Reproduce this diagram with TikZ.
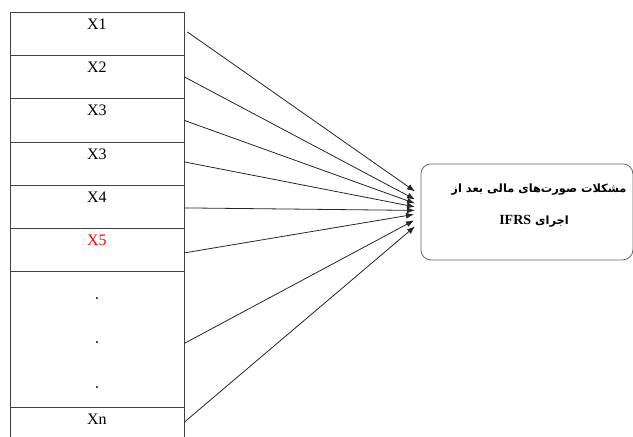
\documentclass[tikz,border=0pt]{standalone}
\usepackage{fontspec}
\setmainfont{Liberation Serif}
\newfontfamily\arabicfont[Script=Arabic]{DejaVu Sans}
\TeXXeTstate=1
\usetikzlibrary{arrows.meta,calc}
\begin{document}
\begin{tikzpicture}[x=1pt,y=-1pt,
  cell/.style={draw=black!75, line width=0.8pt, minimum width=174pt, minimum height=#1, inner sep=0pt, anchor=north west},
  lbl/.style={font=\fontsize{16}{16}\selectfont, anchor=base, inner sep=0pt},
  conn/.style={draw=black!85, line width=0.8pt, -{Latex[length=8pt,width=6pt]}},
  dotmark/.style={circle, fill=black, inner sep=0pt, minimum size=2.2pt},
  target/.style={draw=black!60, line width=0.8pt, rounded corners=10pt, minimum width=212pt, minimum height=96pt, inner sep=0pt, anchor=north west},
  ar/.style={font=\arabicfont\bfseries\fontsize{11.4}{11.4}\selectfont, inner sep=0pt}
]
\useasboundingbox (0,0) rectangle (633,437);
% left column of cells
\node[cell=43pt] (c1) at (9.5,12) {};
\node[cell=43pt] (c2) at (9.5,55) {};
\node[cell=44pt] (c3) at (9.5,98) {};
\node[cell=43pt] (c4) at (9.5,142) {};
\node[cell=43pt] (c5) at (9.5,185) {};
\node[cell=43pt] (c6) at (9.5,228) {};
\node[cell=136pt] (c7) at (9.5,271) {};
\node[cell=29.5pt] (c8) at (9.5,407) {};
% labels
\node[lbl] (l1) at ($(c1.north)+(0,17.5)$) {X1};
\node[lbl] (l2) at ($(c2.north)+(0,17.5)$) {X2};
\node[lbl] (l3) at ($(c3.north)+(0,17.5)$) {X3};
\node[lbl] (l4) at ($(c4.north)+(0,17.5)$) {X3};
\node[lbl] (l5) at ($(c5.north)+(0,17.5)$) {X4};
\node[lbl, text=red] (l6) at ($(c6.north)+(0,17.5)$) {X5};
\node[lbl] (l8) at ($(c8.north)+(0,17.5)$) {Xn};
\node[dotmark] (d1) at ($(c7.north)+(0,27)$) {};
\node[dotmark] (d2) at ($(c7.north)+(0,71)$) {};
\node[dotmark] (d3) at ($(c7.north)+(0,116)$) {};
% target box
\node[target] (t) at (420.5,163.5) {};
\node[ar] (t1) at (539,190) {\beginR مشکلات صورت‌های مالی بعد از\endR};
\node[ar] (t2) at (534,221) {\beginR اجرای \beginL{\fontspec{Liberation Serif}\bfseries\fontsize{14}{14}\selectfont IFRS}\endL\endR};
% end points
\coordinate (e1) at ($(t.west)+(-5.5,-20.5)$);
\coordinate (e2) at ($(t.west)+(-5.5,-12.5)$);
\coordinate (e3) at ($(t.west)+(-5.5,-8.5)$);
\coordinate (e4) at ($(t.west)+(-5.5,-5)$);
\coordinate (e5) at ($(t.west)+(-5.5,-1.5)$);
\coordinate (e6) at ($(t.west)+(-6.5,2.5)$);
\coordinate (e7) at ($(t.west)+(-6.5,8.5)$);
\coordinate (e8) at ($(t.west)+(-5.5,14.5)$);
% connectors
\draw[conn] ($(c1.east)+(3,-2)$) -- (e1);
\draw[conn] (c2.east) -- (e2);
\draw[conn] (c3.east) -- (e3);
\draw[conn] ($(c4.east)+(0,-2)$) -- (e4);
\draw[conn] ($(c5.east)+(0,1)$) -- (e5);
\draw[conn] ($(c6.east)+(0,3)$) -- (e6);
\draw[conn] ($(c7.east)+(0,4)$) -- (e7);
\draw[conn] (c8.east) -- (e8);
\end{tikzpicture}
\end{document}
